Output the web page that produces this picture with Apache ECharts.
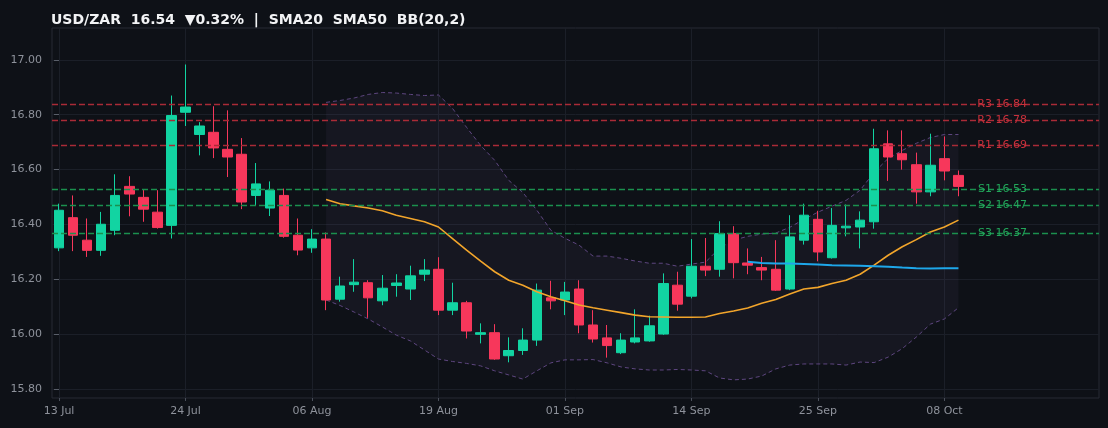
<!DOCTYPE html>
<html>
<head>
<meta charset="utf-8">
<script src="https://cdn.jsdelivr.net/npm/echarts@6/dist/echarts.min.js"></script>
<style>
html,body{margin:0;padding:0;background:#0e1117;}
#chart{width:1108px;height:428px;}
</style>
</head>
<body>
<div id="chart"></div>
<script>
// Business days, 13 Jul .. 09 Oct
const dates = [
 '13 Jul','14 Jul','15 Jul','16 Jul','17 Jul','20 Jul','21 Jul','22 Jul','23 Jul','24 Jul',
 '27 Jul','28 Jul','29 Jul','30 Jul','31 Jul','03 Aug','04 Aug','05 Aug','06 Aug','07 Aug',
 '10 Aug','11 Aug','12 Aug','13 Aug','14 Aug','17 Aug','18 Aug','19 Aug','20 Aug','21 Aug',
 '24 Aug','25 Aug','26 Aug','27 Aug','28 Aug','31 Aug','01 Sep','02 Sep','03 Sep','04 Sep',
 '07 Sep','08 Sep','09 Sep','10 Sep','11 Sep','14 Sep','15 Sep','16 Sep','17 Sep','18 Sep',
 '21 Sep','22 Sep','23 Sep','24 Sep','25 Sep','28 Sep','29 Sep','30 Sep','01 Oct','02 Oct',
 '05 Oct','06 Oct','07 Oct','08 Oct','09 Oct'
];
const tickIdx = [0, 9, 18, 27, 36, 45, 54, 63];
const yTicks = [15.8, 16.0, 16.2, 16.4, 16.6, 16.8, 17.0];

const opens  = [16.315,16.425,16.343,16.306,16.379,16.539,16.499,16.445,16.397,16.809,
                16.728,16.736,16.674,16.656,16.506,16.460,16.506,16.361,16.315,16.347,
                16.128,16.181,16.188,16.122,16.178,16.165,16.219,16.237,16.088,16.115,
                16.000,16.006,15.922,15.941,15.979,16.133,16.125,16.165,16.034,15.987,
                15.933,15.972,15.976,16.001,16.179,16.139,16.248,16.237,16.367,16.260,
                16.243,16.237,16.165,16.343,16.419,16.279,16.388,16.391,16.410,16.694,
                16.658,16.618,16.519,16.640,16.579];
const closes = [16.452,16.361,16.306,16.401,16.506,16.511,16.456,16.389,16.797,16.828,
                16.759,16.679,16.646,16.482,16.548,16.525,16.357,16.307,16.347,16.125,
                16.176,16.190,16.133,16.168,16.187,16.213,16.234,16.088,16.115,16.012,
                16.006,15.910,15.941,15.979,16.161,16.122,16.154,16.034,15.983,15.959,
                15.979,15.987,16.031,16.185,16.110,16.248,16.234,16.367,16.261,16.252,
                16.234,16.161,16.355,16.434,16.300,16.397,16.394,16.416,16.676,16.646,
                16.636,16.519,16.616,16.595,16.539];
const lows   = [16.303,16.303,16.282,16.286,16.361,16.430,16.410,16.385,16.349,16.759,
                16.652,16.642,16.573,16.456,16.468,16.431,16.352,16.288,16.297,16.088,
                16.119,16.155,16.060,16.106,16.137,16.125,16.194,16.070,16.070,15.985,
                15.967,15.907,15.898,15.925,15.958,16.091,16.070,16.004,15.970,15.915,
                15.928,15.967,15.973,15.998,16.086,16.131,16.212,16.210,16.204,16.219,
                16.197,16.158,16.161,16.327,16.266,16.276,16.357,16.313,16.385,16.559,
                16.600,16.476,16.503,16.561,16.503];
const highs  = [16.476,16.506,16.422,16.446,16.583,16.576,16.527,16.525,16.870,16.983,
                16.773,16.831,16.816,16.715,16.624,16.557,16.531,16.422,16.383,16.371,
                16.210,16.274,16.197,16.216,16.219,16.250,16.274,16.281,16.188,16.122,
                16.040,16.037,15.989,16.022,16.185,16.195,16.191,16.197,16.088,16.034,
                16.004,16.091,16.068,16.222,16.228,16.347,16.351,16.412,16.394,16.313,
                16.282,16.343,16.434,16.476,16.450,16.460,16.473,16.448,16.749,16.743,
                16.743,16.662,16.731,16.721,16.597];

const sma20Start = 19;
const sma20 = [16.491,16.476,16.468,16.460,16.450,16.434,16.422,16.410,16.391,16.349,
               16.307,16.267,16.228,16.197,16.179,16.155,16.137,16.122,16.107,16.097,
               16.088,16.079,16.070,16.064,16.063,16.062,16.062,16.063,16.076,16.085,
               16.096,16.113,16.127,16.147,16.165,16.171,16.185,16.197,16.219,16.252,
               16.288,16.319,16.345,16.373,16.391,16.416];
const sma50Start = 49;
const sma50 = [16.264,16.260,16.258,16.258,16.256,16.254,16.252,16.251,16.250,16.248,
               16.246,16.243,16.241,16.240,16.241,16.241];
const bbStart = 19;
const bbUpper = [16.845,16.852,16.861,16.874,16.881,16.879,16.874,16.870,16.872,16.823,
                 16.754,16.688,16.634,16.561,16.517,16.452,16.379,16.350,16.325,16.285,
                 16.285,16.277,16.267,16.259,16.259,16.248,16.256,16.263,16.314,16.343,
                 16.357,16.365,16.369,16.390,16.419,16.445,16.467,16.488,16.525,16.590,
                 16.641,16.670,16.696,16.717,16.728,16.728];
const bbLower = [16.125,16.105,16.081,16.056,16.027,15.997,15.976,15.943,15.910,15.901,
                 15.894,15.885,15.867,15.852,15.837,15.867,15.896,15.907,15.907,15.908,
                 15.896,15.881,15.874,15.870,15.870,15.872,15.870,15.867,15.841,15.834,
                 15.837,15.848,15.874,15.888,15.892,15.892,15.892,15.888,15.899,15.897,
                 15.917,15.948,15.990,16.037,16.056,16.097];

const levelNames  = ['R3','R2','R1','S1','S2','S3'];
const levelValues = [16.84, 16.78, 16.69, 16.53, 16.47, 16.37];

const lastClose = 16.54, changePct = -0.32;

const upColor = '#12d4a2', downColor = '#f7375b';
const font = 'DejaVu Sans';

const candleData = opens.map((o, i) => [i, o, closes[i], lows[i], highs[i]]);
const seq = (start, arr) => arr.map((v, k) => [start + k, v]);
const bandData = bbUpper.map((u, k) => [bbStart + k, u, bbLower[k]]);

const markData = levelNames.map((n, k) => {
  const isR = n[0] === 'R';
  return {
    yAxis: levelValues[k],
    name: n,
    lineStyle: { color: isR ? '#a92b37' : '#1b904e', type: [6, 3], width: 1.3 },
    label: { color: isR ? '#c8303b' : '#22a65a', formatter: n + ' ' + levelValues[k].toFixed(2) }
  };
});

const chart = echarts.init(document.getElementById('chart'), null, { renderer: 'canvas' });
chart.setOption({
  backgroundColor: '#0e1117',
  animation: false,
  textStyle: { fontFamily: font },
  title: {
    text: 'USD/ZAR  ' + lastClose.toFixed(2) + '  ' + (changePct < 0 ? '▼' : '▲') + Math.abs(changePct).toFixed(2) + '%  |  SMA20  SMA50  BB(20,2)',
    left: 46, top: 8,
    textStyle: { color: '#f2f3f5', fontSize: 14, fontWeight: 'bold', fontFamily: font }
  },
  grid: { left: 52, right: 9, top: 28, bottom: 30, show: true, borderColor: '#272b35', borderWidth: 1, backgroundColor: 'transparent' },
  xAxis: {
    type: 'value', min: -0.5, max: 74,
    axisLine: { show: false },
    axisTick: { show: true, length: 3, lineStyle: { color: '#4a4f5a' }, customValues: tickIdx },
    axisLabel: { color: '#8e929b', fontSize: 11, margin: 8, fontFamily: font, customValues: tickIdx,
                 formatter: v => dates[Math.round(v)] || '' },
    splitLine: { show: true, lineStyle: { color: '#1b1f28', width: 1 } }
  },
  yAxis: {
    type: 'value', min: 15.768, max: 17.116, position: 'left',
    axisLine: { show: false },
    axisTick: { show: true, length: 5, inside: false, lineStyle: { color: '#5a5f6a' }, customValues: yTicks },
    axisLabel: { color: '#8e929b', fontSize: 11, margin: 10, fontFamily: font, customValues: yTicks,
                 formatter: v => v.toFixed(2) },
    splitLine: { show: true, lineStyle: { color: '#1b1f28', width: 1 } }
  },
  series: [
    {
      name: 'bbBand', type: 'custom', data: bandData, encode: { x: 0, y: [1, 2] },
      silent: true, z: 1,
      renderItem: (params, api) => {
        if (params.dataIndex !== 0) return null;
        const pts = [];
        for (let k = 0; k < bandData.length; k++) pts.push(api.coord([bandData[k][0], bandData[k][1]]));
        for (let k = bandData.length - 1; k >= 0; k--) pts.push(api.coord([bandData[k][0], bandData[k][2]]));
        return { type: 'polygon', shape: { points: pts }, style: { fill: 'rgba(125,110,175,0.07)' } };
      }
    },
    {
      name: 'bbUpper', type: 'line', data: seq(bbStart, bbUpper), symbol: 'none',
      lineStyle: { color: '#5e4680', width: 1, type: [4, 3] }, silent: true, z: 2
    },
    {
      name: 'bbLower', type: 'line', data: seq(bbStart, bbLower), symbol: 'none',
      lineStyle: { color: '#5e4680', width: 1, type: [4, 3] }, silent: true, z: 2,
      markLine: {
        symbol: 'none', silent: true,
        label: { position: 'insideEnd', distance: [72, 0], fontSize: 11, fontFamily: font },
        data: markData
      }
    },
    {
      name: 'USD/ZAR', type: 'candlestick', data: candleData,
      encode: { x: 0, y: [1, 2, 3, 4] },
      barWidth: 10, z: 3,
      itemStyle: { color: upColor, color0: downColor, borderColor: upColor, borderColor0: downColor, borderWidth: 1 }
    },
    {
      name: 'SMA20', type: 'line', data: seq(sma20Start, sma20), symbol: 'none',
      lineStyle: { color: '#f2a52b', width: 1.6 }, z: 4
    },
    {
      name: 'SMA50', type: 'line', data: seq(sma50Start, sma50), symbol: 'none',
      lineStyle: { color: '#1ea7ea', width: 2 }, z: 4
    }
  ]
});
</script>
</body>
</html>
